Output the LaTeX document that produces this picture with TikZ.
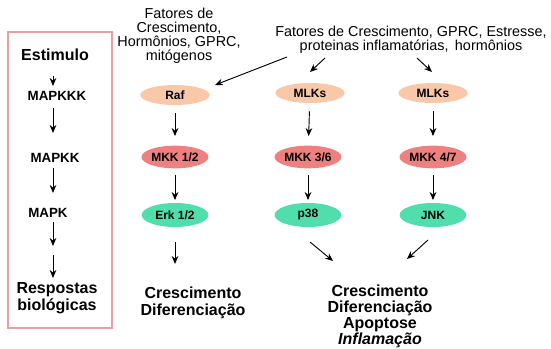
\documentclass[tikz,border=0pt]{standalone}
\usepackage{fontspec}
\setmainfont{Liberation Sans}
\usepackage{tikz}
\usetikzlibrary{shapes, arrows.meta, positioning}
\definecolor{pessego}{RGB}{249, 200, 168}
\definecolor{salmao}{RGB}{238, 128, 128}
\definecolor{turquesa}{RGB}{80, 222, 172}
\definecolor{rosa}{RGB}{232, 160, 165}
\tikzset{
    nivA/.style={ellipse, fill=pessego, minimum width=52pt, minimum height=15pt, inner sep=0pt, font=\bfseries\fontsize{9}{10}\selectfont},
    nivB/.style={ellipse, fill=salmao, minimum width=50pt, minimum height=17pt, inner sep=0pt, font=\bfseries\fontsize{9}{10}\selectfont},
    nivC/.style={ellipse, fill=turquesa, minimum width=50pt, minimum height=18pt, inner sep=0pt, font=\bfseries\fontsize{9}{10}\selectfont},
    seta/.style={-{Stealth[length=6pt, width=5pt]}, black, line width=0.7pt},
    rotulo/.style={align=center, inner sep=0pt, font=\bfseries\fontsize{12}{12.5}\selectfont},
    passo/.style={inner sep=0pt, font=\bfseries\fontsize{10}{12}\selectfont},
    fonte/.style={align=center, inner sep=0pt, font=\fontsize{10.8}{10.5}\selectfont},
}

\begin{document}
\begin{tikzpicture}[x=0.75pt, y=-0.75pt]
        \useasboundingbox (0,0) rectangle (551,349);

        % coluna da esquerda
        \draw[rosa, line width=1.6pt] (8,32) rectangle (112,328);
        \node[rotulo] (est) at (55,55) {Estimulo};
        \node[passo] (mkkk) at (57,96) {MAPKKK};
        \node[passo] (mkk) at (55,158) {MAPKK};
        \node[passo] (mk) at (48,213) {MAPK};
        \node[rotulo, font=\bfseries\fontsize{12}{11.25}\selectfont] (resp) at (57,298) {Respostas\\biológicas};

        \coordinate (e1) at (53,76);  \coordinate (e2) at (53,86);
        \coordinate (e3) at (53,108); \coordinate (e4) at (53,133);
        \coordinate (e5) at (53,168); \coordinate (e6) at (53,193);
        \coordinate (e7) at (53,222); \coordinate (e8) at (53,246);
        \coordinate (e9) at (53,255); \coordinate (e10) at (53,278);
        \draw[seta] (e1) -- (e2);
        \draw[seta] (e3) -- (e4);
        \draw[seta] (e5) -- (e6);
        \draw[seta] (e7) -- (e8);
        \draw[seta] (e9) -- (e10);

        % estimulos
        \node[fonte] (fat1) at (179,36) {Fatores de\\Crescimento,\\Hormônios, GPRC,\\mitógenos};
        \node[fonte] (fat2) at (411,40) {Fatores de Crescimento, GPRC, Estresse,\\proteinas inflamatórias,\, hormônios};

        % cascatas
        \node[nivA] (raf) at (175,95) {Raf};
        \node[nivA] (mlk1) at (310,93) {MLKs};
        \node[nivA] (mlk2) at (433,93) {MLKs};

        \node[nivB] (mkk12) at (175,157) {MKK 1/2};
        \node[nivB] (mkk36) at (308,157) {MKK 3/6};
        \node[nivB] (mkk47) at (433,157) {MKK 4/7};

        \node[nivC] (erk) at (175,215) {Erk 1/2};
        \node[nivC] (p38) at (308,215) {p38};
        \node[nivC] (jnk) at (433,215) {JNK};

        \coordinate (s1) at (287,57);  \coordinate (t1) at (215,85);
        \coordinate (s2) at (325,58);  \coordinate (t2) at (310,72);
        \coordinate (s3) at (417,58);  \coordinate (t3) at (432,72);
        \draw[seta] (s1) -- (t1);
        \draw[seta] (s2) -- (t2);
        \draw[seta] (s3) -- (t3);

        \draw[seta, shorten <=6pt, shorten >=7pt] (raf) -- (mkk12);
        \draw[seta, shorten <=6pt, shorten >=7pt] (mlk1) -- (mkk36);
        \draw[seta, shorten <=6pt, shorten >=7pt] (mlk2) -- (mkk47);

        \draw[seta, shorten <=5pt, shorten >=2pt] (mkk12) -- (erk);
        \draw[seta, shorten <=5pt, shorten >=2pt] (mkk36) -- (p38);
        \draw[seta, shorten <=5pt, shorten >=2pt] (mkk47) -- (jnk);

        % respostas
        \coordinate (u1) at (175,242); \coordinate (v1) at (175,264);
        \coordinate (u2) at (310,242); \coordinate (v2) at (333,261);
        \coordinate (u3) at (428,240); \coordinate (v3) at (407,259);
        \draw[seta] (u1) -- (v1);
        \draw[seta] (u2) -- (v2);
        \draw[seta] (u3) -- (v3);

        \node[rotulo, font=\bfseries\fontsize{12}{12.75}\selectfont] (res1) at (193,303) {Crescimento\\Diferenciação};
        \node[rotulo, font=\bfseries\fontsize{12}{12}\selectfont] (res2) at (380,316) {Crescimento\\Diferenciação\\Apoptose\\\textit{Inflamação}};
\end{tikzpicture}
\end{document}
